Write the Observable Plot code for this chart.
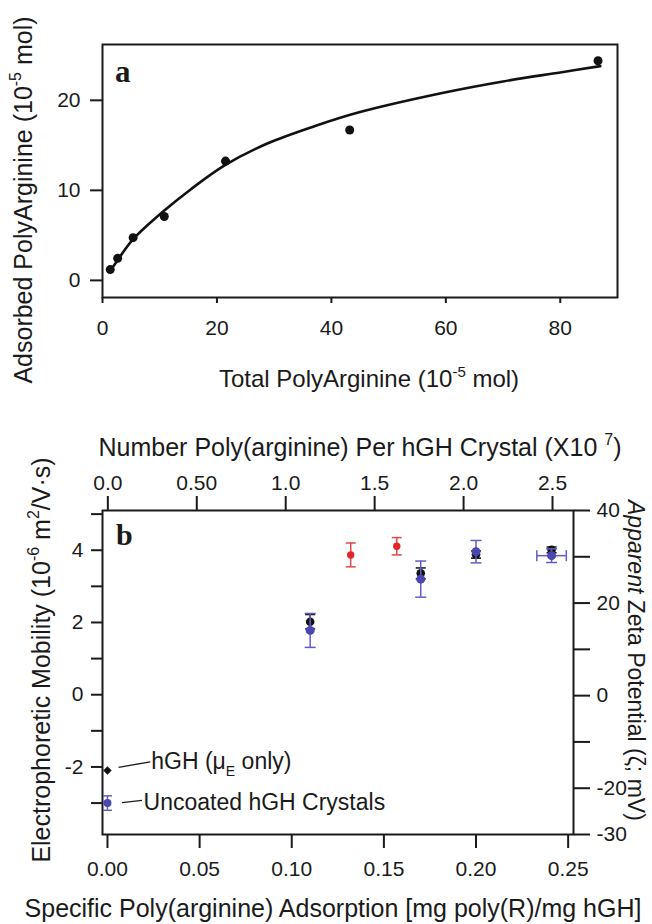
<!DOCTYPE html>
<html><head><meta charset="utf-8">
<script src="https://cdn.jsdelivr.net/npm/d3@7"></script>
<script src="https://cdn.jsdelivr.net/npm/@observablehq/plot@0.6"></script>
<style>
body{margin:0;background:#fff}
#wrap{position:relative;width:652px;height:924px;overflow:hidden;background:#fff}
#wrap text{white-space:pre}
</style></head><body><div id="wrap"></div>
<script>
// ---------- Panel a data ----------
const totalPA = [1.35, 2.65, 5.35, 10.8, 21.5, 43.2, 86.6];
const adsorbedPA = [1.2, 2.45, 4.75, 7.1, 13.25, 16.7, 24.4];
const fitTotal = [1.3, 2.7, 5.4, 10.7, 15.4, 21.4, 28.8, 36.9, 45, 60, 70, 80, 87];
const fitAdsorbed = [1.0, 2.3, 4.6, 7.7, 10.1, 12.8, 15.2, 17.1, 18.7, 20.9, 22.1, 23.1, 23.8];
const xTicksA = [0, 20, 40, 60, 80];
const yTicksA = [0, 10, 20];

// ---------- Panel b data ----------
const coatedX = [0.110, 0.170, 0.200, 0.241];
const coatedMob = [2.02, 3.36, 3.88, 4.01];
const coatedErr = [0.20, 0.15, 0.10, 0.08];
const redX = [0.132, 0.157];
const redMob = [3.87, 4.11];
const redErr = [0.33, 0.24];
const blueX = [0.110, 0.170, 0.200, 0.241];
const blueMob = [1.78, 3.20, 3.96, 3.85];
const blueErr = [0.47, 0.50, 0.31, 0.19];
const blueXErr = [0, 0, 0, 0.008];
const refLabels = ["hGH (μE only)", "Uncoated hGH Crystals"];
const refX = [0, 0];
const refMob = [-2.1, -3.0];
const refErr = [0, 0.2];
const xTicksB = [0, 0.05, 0.10, 0.15, 0.20, 0.25];
const yTicksB = [-3, -2, -1, 0, 1, 2, 3, 4, 5];
const topTicks = [0, 0.5, 1.0, 1.5, 2.0, 2.5];
const topTickLabels = ["0.0", "0.50", "1.0", "1.5", "2.0", "2.5"];
const zetaTicks = [-30, -20, -10, 0, 10, 20, 30, 40];
const zetaLabeled = [-30, -20, 0, 20, 40];

const FONT = '"Liberation Sans", Arial, Helvetica, sans-serif';
const INK = "#1a1a1a";
const RED = "#e0282c", RED_BAR = "#e2474a";
const BLUE = "#4a48b0", BLUE_BAR = "#5f5ec0";

const wrap = document.getElementById("wrap");
const baseStyle = top => ({position: "absolute", left: "0px", top: top + "px", background: "transparent",
  overflow: "visible", fontFamily: FONT, fontSize: "21px", color: INK, maxWidth: "none"});

const hcap = {draw(ctx, size) { const w = Math.sqrt(size / Math.PI); ctx.moveTo(-w, 0); ctx.lineTo(w, 0); }};
const vcap = {draw(ctx, size) { const w = Math.sqrt(size / Math.PI); ctx.moveTo(0, -w); ctx.lineTo(0, w); }};

// ---------- Panel a ----------
const ptsA = totalPA.map((x, i) => ({x, y: adsorbedPA[i]}));
const fitA = fitTotal.map((x, i) => ({x, y: fitAdsorbed[i]}));
const plotA = Plot.plot({
  width: 652, height: 420, marginTop: 44, marginRight: 35, marginBottom: 123, marginLeft: 102,
  style: baseStyle(0),
  x: {domain: [0, 90]}, y: {domain: [-1.9, 26.2]},
  marks: [
    Plot.frame({strokeWidth: 2, stroke: INK}),
    Plot.axisX({ticks: xTicksA, tickFormat: d => String(d), tickSize: 6, tickPadding: 17, strokeWidth: 2, label: null}),
    Plot.axisY({ticks: yTicksA, tickFormat: d => String(d), tickSize: 12, tickPadding: 10, strokeWidth: 2, label: null}),
    Plot.line(fitA, {x: "x", y: "y", curve: "catmull-rom", stroke: "#111", strokeWidth: 2.6}),
    Plot.dot(ptsA, {x: "x", y: "y", r: 4.5, fill: "#111"})
  ]
});
wrap.appendChild(plotA);

// ---------- Panel b ----------
const coated = coatedX.map((x, i) => ({x, y: coatedMob[i], lo: coatedMob[i] - coatedErr[i], hi: coatedMob[i] + coatedErr[i]}));
const red = redX.map((x, i) => ({x, y: redMob[i], lo: redMob[i] - redErr[i], hi: redMob[i] + redErr[i]}));
const blue = blueX.map((x, i) => ({x, y: blueMob[i], lo: blueMob[i] - blueErr[i], hi: blueMob[i] + blueErr[i],
  xlo: x - blueXErr[i], xhi: x + blueXErr[i], xe: blueXErr[i]}));
const refs = refLabels.map((label, i) => ({label, x: refX[i], y: refMob[i], lo: refMob[i] - refErr[i], hi: refMob[i] + refErr[i], e: refErr[i]}));
const blueXE = blue.filter(d => d.xe > 0);
const refBlue = refs.filter(d => d.e > 0);

const plotB = Plot.plot({
  width: 652, height: 504, marginTop: 90, marginRight: 79, marginBottom: 90, marginLeft: 102,
  style: baseStyle(420),
  x: {domain: [-0.0027, 0.2529]}, y: {domain: [-3.87, 5.10]},
  marks: [
    Plot.frame({strokeWidth: 2, stroke: INK}),
    Plot.axisX({ticks: xTicksB, tickFormat: d3.format(".2f"), tickSize: 14, tickPadding: 13, strokeWidth: 2, label: null}),
    Plot.axisY({ticks: yTicksB, tickFormat: d => (d % 2 === 0 ? String(d) : ""), tickSize: 11, tickPadding: 8, strokeWidth: 2, label: null}),
    // coated crystals, measured (black)
    Plot.ruleX(coated, {x: "x", y1: "lo", y2: "hi", stroke: "#111", strokeWidth: 1.5}),
    Plot.dot(coated, {x: "x", y: "lo", symbol: hcap, r: 5, stroke: "#111", strokeWidth: 1.5}),
    Plot.dot(coated, {x: "x", y: "hi", symbol: hcap, r: 5, stroke: "#111", strokeWidth: 1.5}),
    Plot.dot(coated, {x: "x", y: "y", r: 4.3, fill: "#111"}),
    // red
    Plot.ruleX(red, {x: "x", y1: "lo", y2: "hi", stroke: RED_BAR, strokeWidth: 1.5}),
    Plot.dot(red, {x: "x", y: "lo", symbol: hcap, r: 5, stroke: RED_BAR, strokeWidth: 1.5}),
    Plot.dot(red, {x: "x", y: "hi", symbol: hcap, r: 5, stroke: RED_BAR, strokeWidth: 1.5}),
    Plot.dot(red, {x: "x", y: "y", r: 3.7, fill: RED}),
    // blue
    Plot.ruleX(blue, {x: "x", y1: "lo", y2: "hi", stroke: BLUE_BAR, strokeWidth: 1.5}),
    Plot.dot(blue, {x: "x", y: "lo", symbol: hcap, r: 5.5, stroke: BLUE_BAR, strokeWidth: 1.5}),
    Plot.dot(blue, {x: "x", y: "hi", symbol: hcap, r: 5.5, stroke: BLUE_BAR, strokeWidth: 1.5}),
    Plot.ruleY(blueXE, {y: "y", x1: "xlo", x2: "xhi", stroke: BLUE_BAR, strokeWidth: 1.5}),
    Plot.dot(blueXE, {x: "xlo", y: "y", symbol: vcap, r: 5.5, stroke: BLUE_BAR, strokeWidth: 1.5}),
    Plot.dot(blueXE, {x: "xhi", y: "y", symbol: vcap, r: 5.5, stroke: BLUE_BAR, strokeWidth: 1.5}),
    Plot.dot(blue, {x: "x", y: "y", r: 4.5, fill: BLUE}),
    // reference points at zero adsorption
    Plot.ruleX(refBlue, {x: "x", y1: "lo", y2: "hi", stroke: BLUE_BAR, strokeWidth: 1.5}),
    Plot.dot(refBlue, {x: "x", y: "lo", symbol: hcap, r: 4.5, stroke: BLUE_BAR, strokeWidth: 1.5}),
    Plot.dot(refBlue, {x: "x", y: "hi", symbol: hcap, r: 4.5, stroke: BLUE_BAR, strokeWidth: 1.5}),
    Plot.dot(refBlue, {x: "x", y: "y", r: 4, fill: BLUE}),
    Plot.dot(refs.filter(d => d.e === 0), {x: "x", y: "y", symbol: "diamond2", r: 3.8, fill: "#111"})
  ]
});
wrap.appendChild(plotB);

const plotC = Plot.plot({
  width: 652, height: 504, marginTop: 90, marginRight: 79, marginBottom: 90, marginLeft: 102,
  style: baseStyle(420),
  x: {domain: [-0.03, 2.618]}, y: {domain: [-30, 40]},
  marks: [
    Plot.axisX({anchor: "top", ticks: topTicks, tickFormat: d => topTickLabels[topTicks.indexOf(d)],
      tickSize: 15, tickPadding: 6, strokeWidth: 2, label: null}),
    Plot.axisY({anchor: "right", ticks: zetaTicks, tickFormat: d => (zetaLabeled.includes(d) ? String(d) : ""),
      tickSize: 16, tickPadding: 7, strokeWidth: 2, label: null})
  ]
});
wrap.appendChild(plotC);

// ---------- text helpers ----------
function richText(svg, x, y, rotate, anchor, size, parts, extra = {}) {
  const t = d3.select(svg).append("text")
    .attr("transform", `translate(${x},${y})` + (rotate ? ` rotate(${rotate})` : ""))
    .attr("text-anchor", anchor).attr("font-size", size).attr("fill", INK)
    .attr("font-family", extra.family || FONT).style("white-space", "pre");
  if (extra.weight) t.attr("font-weight", extra.weight);
  let shift = 0;
  for (const p of parts) {
    const s = typeof p === "string" ? {t: p} : p;
    const ts = t.append("tspan").text(s.t);
    let target = 0;
    if (s.sup) { target = -Math.round(size * 0.42); ts.attr("font-size", Math.round(size * 0.62)); }
    if (s.sub) { target = Math.round(size * 0.3); ts.attr("font-size", Math.round(size * 0.62)); }
    if (s.it) ts.attr("font-style", "italic");
    if (target !== shift) { ts.attr("dy", target - shift); shift = target; }
  }
  return t;
}

// panel a titles
richText(plotA, 369, 387, 0, "middle", 24, ["Total PolyArginine (10", {t: "-5", sup: true}, " mol)"]);
richText(plotA, 32, 200, -90, "middle", 25, ["Adsorbed PolyArginine (10", {t: "-5", sup: true}, " mol)"]);
richText(plotA, 115, 82, 0, "start", 31, ["a"], {family: '"Liberation Serif", "Times New Roman", serif', weight: "bold"});

// panel b titles
richText(plotB, 333, 497, 0, "middle", 25, ["Specific Poly(arginine) Adsorption [mg poly(R)/mg hGH]"]);
richText(plotB, 50, 240, -90, "middle", 25, ["Electrophoretic Mobility (10", {t: "-6", sup: true}, " m", {t: "2", sup: true}, "/V·s)"]);
richText(plotC, 360, 36, 0, "middle", 25, ["Number Poly(arginine) Per hGH Crystal (X10 ", {t: "7", sup: true}, ")"]);
richText(plotC, 628, 80, 90, "start", 23, [{t: "Apparent", it: true}, " Zeta Potential (ζ; mV)"]);
richText(plotB, 116, 125, 0, "start", 30, ["b"], {family: '"Liberation Serif", "Times New Roman", serif', weight: "bold"});

// reference-point labels with leader lines, positioned through the plot's scales
const sx = plotB.scale("x"), sy = plotB.scale("y");
const leaders = [[11.6, -2.6, 43.3, -8.3, 44.3, -1], [15, 0, 35, -2.3, 36.6, 7.5]];
refs.forEach((d, i) => {
  const px = sx.apply(d.x), py = sy.apply(d.y);
  const [a, b, c, e, tx, ty] = leaders[i];
  d3.select(plotB).append("line").attr("x1", px + a).attr("y1", py + b).attr("x2", px + c).attr("y2", py + e)
    .attr("stroke", INK).attr("stroke-width", 1.3);
  const parts = i === 0 ? ["hGH (μ", {t: "E", sub: true}, " only)"] : [d.label];
  richText(plotB, px + tx, py + ty, 0, "start", 23, parts);
});
</script></body></html>
